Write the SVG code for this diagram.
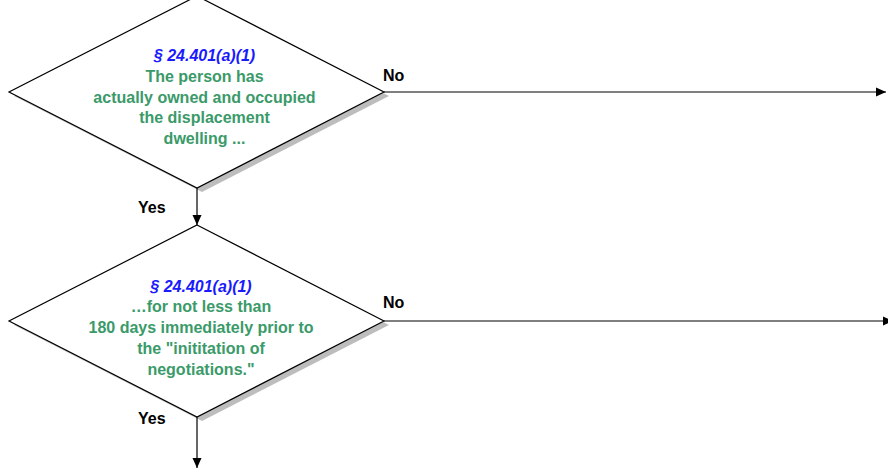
<svg xmlns="http://www.w3.org/2000/svg" width="888" height="470" viewBox="0 0 888 470">
  <style>
    .shadow { fill: #bdbdbd; }
    .diamond { fill: #ffffff; stroke: #000000; stroke-width: 1.2; }
    .cite { font-family: "Liberation Sans", Arial, sans-serif; font-size: 16px; font-weight: bold; font-style: italic; fill: #1a1aff; text-anchor: middle; }
    .body { font-family: "Liberation Sans", Arial, sans-serif; font-size: 16px; font-weight: bold; fill: #3a9a69; text-anchor: middle; }
    .label { font-family: "Liberation Sans", Arial, sans-serif; font-size: 16px; font-weight: bold; fill: #000000; }
    .conn { stroke: #000000; stroke-width: 1.2; fill: none; }
  </style>
  <defs>
    <marker id="arrow" viewBox="0 0 10 10" refX="10" refY="5" markerWidth="10" markerHeight="10" markerUnits="userSpaceOnUse" orient="auto">
      <path d="M0,0.5 L10,5 L0,9.5 Z" fill="#000000"/>
    </marker>
  </defs>

  <rect width="888" height="470" fill="#ffffff"/>

  <!-- Decision 1: ownership and occupancy -->
  <g id="decision-owned">
    <polygon class="shadow" points="202,0 389,96 202,192 14,96"/>
    <polygon class="diamond" points="197,-4 384,92 197,188 9,92"/>
    <text class="cite" x="204.5" y="61">§ 24.401(a)(1)</text>
    <text class="body" x="204.5" y="82">The person has</text>
    <text class="body" x="204.5" y="103">actually owned and occupied</text>
    <text class="body" x="204.5" y="123">the displacement</text>
    <text class="body" x="204.5" y="144">dwelling ...</text>
  </g>

  <!-- Decision 2: 180-day period -->
  <g id="decision-180days">
    <polygon class="shadow" points="202,229 389,325 202,421 14,325"/>
    <polygon class="diamond" points="197,225 384,321 197,417 9,321"/>
    <text class="cite" x="201" y="292">§ 24.401(a)(1)</text>
    <text class="body" x="201" y="312">…for not less than</text>
    <text class="body" x="201" y="333">180 days immediately prior to</text>
    <text class="body" x="201" y="354">the "inititation of</text>
    <text class="body" x="201" y="375">negotiations."</text>
  </g>

  <!-- Connectors -->
  <g id="connectors">
    <line class="conn" x1="197" y1="188" x2="197" y2="225" marker-end="url(#arrow)"/>
    <line class="conn" x1="384" y1="92" x2="886" y2="92" marker-end="url(#arrow)"/>
    <line class="conn" x1="197" y1="417" x2="197" y2="468" marker-end="url(#arrow)"/>
    <line class="conn" x1="384" y1="321" x2="893" y2="321" marker-end="url(#arrow)"/>
    <text class="label" x="383" y="81">No</text>
    <text class="label" x="138" y="213">Yes</text>
    <text class="label" x="383" y="308">No</text>
    <text class="label" x="138" y="424">Yes</text>
  </g>
</svg>
